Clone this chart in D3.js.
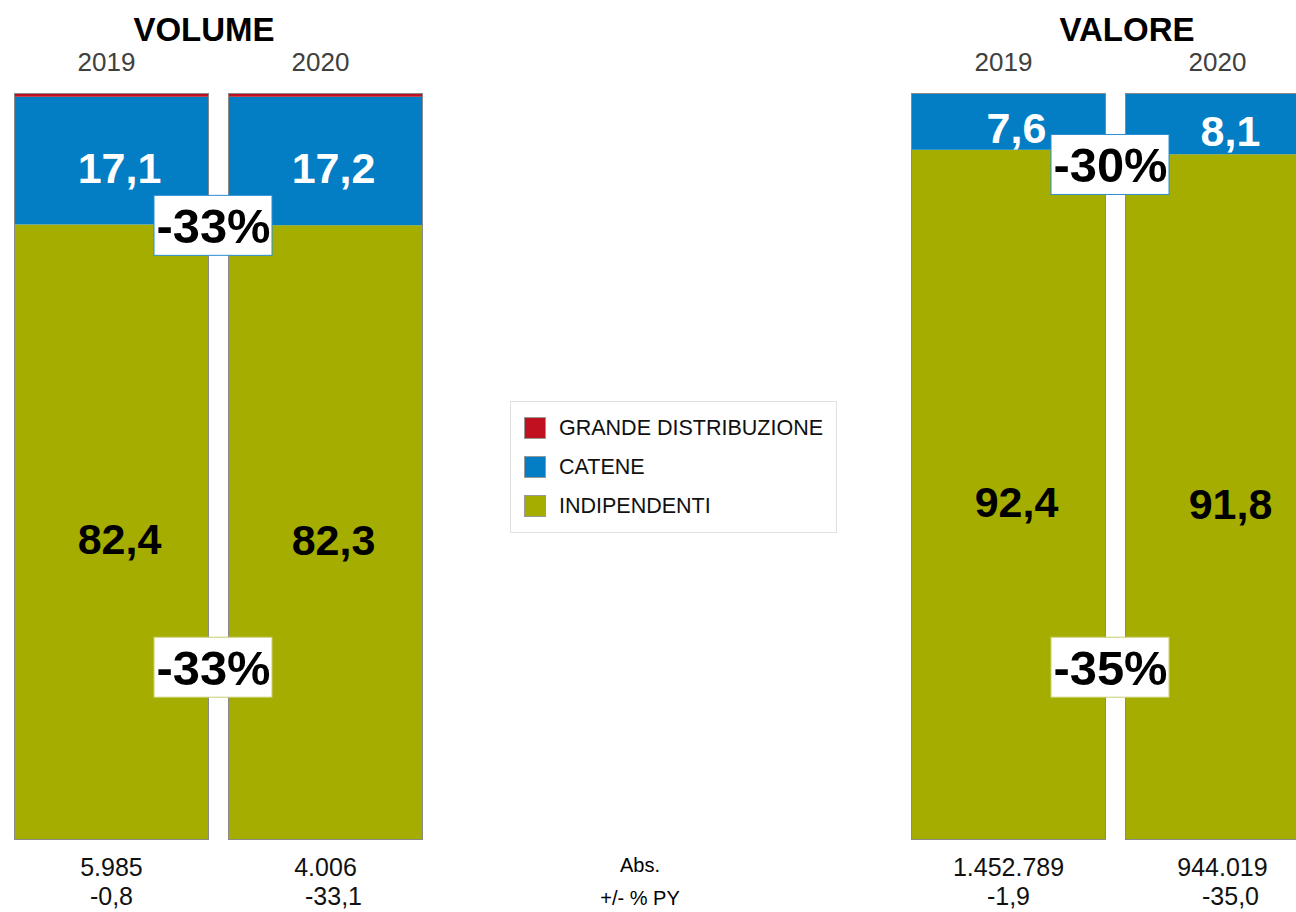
<!DOCTYPE html>
<html>
<head>
<meta charset="utf-8">
<script src="https://cdn.jsdelivr.net/npm/d3@7"></script>
<style>
  body { margin: 0; background: #fff; }
  svg { display: block; font-family: "Liberation Sans", Arial, sans-serif; }
</style>
</head>
<body>
<svg id="chart" width="1296" height="912"></svg>
<script>
// data
var panels = ["VOLUME", "VALORE"];
var years = ["2019", "2020"];
var segments = ["GRANDE DISTRIBUZIONE", "CATENE", "INDIPENDENTI"];
var volumeShares = [[0.5, 17.1, 82.4], [0.5, 17.2, 82.3]];
var valoreShares = [[0, 7.6, 92.4], [0.1, 8.1, 91.8]];
var volumeAbs = ["5.985", "4.006"];
var volumeChg = ["-0,8", "-33,1"];
var valoreAbs = ["1.452.789", "944.019"];
var valoreChg = ["-1,9", "-35,0"];
var volumeDelta = ["-33%", "-33%"];   // catene, indipendenti
var valoreDelta = ["-30%", "-35%"];
var rowLabels = ["Abs.", "+/- % PY"];

var colors = {"GRANDE DISTRIBUZIONE": "#c1101f", "CATENE": "#037dc3", "INDIPENDENTI": "#a5ad00"};
var boxBorder = {"CATENE": "#2a8fd0", "INDIPENDENTI": "#c9cf70"};

var svg = d3.select("#chart");
var y = d3.scaleLinear().domain([0, 100]).range([840, 93]);
var it = d3.formatLocale({decimal: ",", thousands: ".", grouping: [3], currency: ["", "€"]});
var fmt = it.format(".1f");

var layout = [
	{x0: 14, x1: 423, titleX: 204},
	{x0: 911, x1: 1320, titleX: 1127}
];
var shares = [volumeShares, valoreShares];
var absVals = [volumeAbs, valoreAbs];
var chgVals = [volumeChg, valoreChg];
var deltas = [volumeDelta, valoreDelta];

var stackKeys = segments.slice().reverse();

panels.forEach(function(name, p) {
	var x = d3.scaleBand().domain(years).range([layout[p].x0, layout[p].x1]).paddingInner(0.089);
	var rows = years.map(function(yr, i) {
		var r = {year: yr};
		segments.forEach(function(s, j) { r[s] = shares[p][i][j]; });
		return r;
	});
	var series = d3.stack().keys(stackKeys)(rows);
	var g = svg.append("g");

	g.append("text")
		.attr("x", layout[p].titleX).attr("y", 41)
		.attr("text-anchor", "middle")
		.style("font-size", "33px").style("font-weight", "bold")
		.text(name);

	g.selectAll(".year").data(years).enter().append("text")
		.attr("x", function(d) { return x(d) + x.bandwidth()/2 - 5; })
		.attr("y", 71)
		.attr("text-anchor", "middle")
		.style("font-size", "26px").style("fill", "#404040")
		.text(function(d) { return d; });

	series.forEach(function(s) {
		g.selectAll(null).data(s).enter().append("rect")
			.attr("x", function(d) { return x(d.data.year); })
			.attr("y", function(d) { return y(d[1]); })
			.attr("width", x.bandwidth())
			.attr("height", function(d) { return y(d[0]) - y(d[1]); })
			.attr("fill", colors[s.key]);

		g.selectAll(null).data(s.filter(function(d) { return d[1] - d[0] >= 5; })).enter().append("text")
			.attr("x", function(d) { return x(d.data.year) + x.bandwidth()/2 + 8; })
			.attr("y", function(d) { return (y(d[0]) + y(d[1]))/2 + 22; })
			.attr("text-anchor", "middle")
			.style("font-size", "43px").style("font-weight", "bold")
			.style("fill", s.key == "CATENE" ? "#fff" : "#000")
			.text(function(d) { return fmt(d[1] - d[0]); });
	});

	// bar outlines
	g.selectAll(".outline").data(years).enter().append("rect")
		.attr("x", function(d) { return x(d) + 0.5; })
		.attr("y", function(d, i) { return y(d3.sum(shares[p][i])) + 0.5; })
		.attr("width", x.bandwidth() - 1)
		.attr("height", function(d, i) { return y(0) - y(d3.sum(shares[p][i])) - 1; })
		.attr("fill", "none").attr("stroke", "#8a8a8a").attr("stroke-width", 1);

	// change boxes between the bars
	var gapX = x(years[1]) - (x(years[1]) - x(years[0]) - x.bandwidth())/2 - 6;
	var bnd = d3.mean(rows, function(r) { return r["INDIPENDENTI"]; });
	var boxes = [
		{key: "CATENE", text: deltas[p][0], cy: Math.max(y(bnd), y(90.5))},
		{key: "INDIPENDENTI", text: deltas[p][1], cy: y(23.2)}
	];
	var bw = 118, bh = 60;
	var bg = g.selectAll(".box").data(boxes).enter().append("g");
	bg.append("rect")
		.attr("x", gapX - bw/2 + 0.5)
		.attr("y", function(d) { return d.cy - bh/2 + 0.5; })
		.attr("width", bw).attr("height", bh)
		.attr("fill", "#fff")
		.attr("stroke", function(d) { return boxBorder[d.key]; });
	bg.append("text")
		.attr("x", gapX + 1)
		.attr("y", function(d) { return d.cy + 18; })
		.attr("text-anchor", "middle")
		.style("font-size", "49px").style("font-weight", "bold")
		.attr("textLength", 114).attr("lengthAdjust", "spacingAndGlyphs")
		.text(function(d) { return d.text; });

	// absolute values and change vs previous year
	g.selectAll(".abs").data(years).enter().append("text")
		.attr("x", function(d) { return x(d) + x.bandwidth()/2; })
		.attr("y", 876)
		.attr("text-anchor", "middle")
		.style("font-size", "25px").style("fill", "#111")
		.text(function(d, i) { return absVals[p][i]; });
	g.selectAll(".chg").data(years).enter().append("text")
		.attr("x", function(d, i) { return x(d) + x.bandwidth()/2 + (i == 1 ? 8 : 0); })
		.attr("y", 905)
		.attr("text-anchor", "middle")
		.style("font-size", "25px").style("fill", "#111")
		.text(function(d, i) { return chgVals[p][i]; });
});

svg.selectAll(".rowlab").data(rowLabels).enter().append("text")
	.attr("x", 640)
	.attr("y", function(d, i) { return 872 + i * 33; })
	.attr("text-anchor", "middle")
	.style("font-size", "20px").style("fill", "#000")
	.text(function(d) { return d; });

// legend
var legend = svg.append("g");
legend.append("rect")
	.attr("x", 510.5).attr("y", 401.5).attr("width", 326).attr("height", 131)
	.attr("fill", "#fff").attr("stroke", "#e0e0e0");
var li = legend.selectAll(".item").data(segments).enter().append("g")
	.attr("transform", function(d, i) { return "translate(524," + (417 + i * 39) + ")"; });
li.append("rect")
	.attr("x", 0.5).attr("y", 0.5).attr("width", 21).attr("height", 21)
	.attr("fill", function(d) { return colors[d]; })
	.attr("stroke", "#999");
li.append("text")
	.attr("x", 35).attr("y", 18)
	.style("font-size", "21.5px").style("fill", "#111")
	.text(function(d) { return d; });
</script>
</body>
</html>
